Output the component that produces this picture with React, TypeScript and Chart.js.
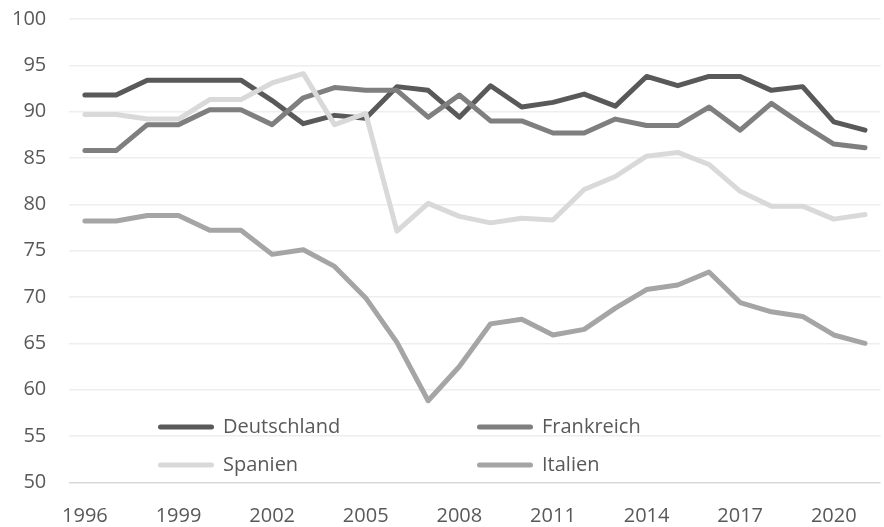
import React, { useEffect, useRef } from "react";
import { Chart, registerables } from "chart.js";

Chart.register(...registerables);

const years = [
  "1996", "1997", "1998", "1999", "2000", "2001", "2002", "2003", "2004", "2005",
  "2006", "2007", "2008", "2009", "2010", "2011", "2012", "2013", "2014", "2015",
  "2016", "2017", "2018", "2019", "2020", "2021",
];
const tickYears = ["1996", "1999", "2002", "2005", "2008", "2011", "2014", "2017", "2020"];

const deutschland = [91.8, 91.8, 93.4, 93.4, 93.4, 93.4, 91.2, 88.7, 89.6, 89.3, 92.7, 92.3, 89.4, 92.8, 90.5, 91.0, 91.9, 90.6, 93.8, 92.8, 93.8, 93.8, 92.3, 92.7, 88.9, 88.0];
const frankreich = [85.8, 85.8, 88.6, 88.6, 90.2, 90.2, 88.6, 91.5, 92.6, 92.3, 92.3, 89.4, 91.8, 89.0, 89.0, 87.7, 87.7, 89.2, 88.5, 88.5, 90.5, 88.0, 90.9, 88.6, 86.5, 86.1];
const spanien = [89.7, 89.7, 89.2, 89.2, 91.3, 91.3, 93.1, 94.1, 88.6, 89.8, 77.1, 80.1, 78.7, 78.0, 78.5, 78.3, 81.6, 83.0, 85.2, 85.6, 84.3, 81.4, 79.8, 79.8, 78.4, 78.9];
const italien = [78.2, 78.2, 78.8, 78.8, 77.2, 77.2, 74.6, 75.1, 73.3, 69.9, 65.1, 58.8, 62.5, 67.1, 67.6, 65.9, 66.5, 68.8, 70.8, 71.3, 72.7, 69.4, 68.4, 67.9, 65.9, 65.0];

const seriesNames = ["Deutschland", "Frankreich", "Spanien", "Italien"];
const seriesColors = ["#595959", "#7f7f7f", "#d9d9d9", "#a5a5a5"];

const FONT = "'Open Sans', 'Liberation Sans', sans-serif";
const TEXT = "#595959";
const SHIFT = 16;

const legendPlugin = {
  id: "insideLegend",
  afterDraw(chart: any) {
    const { ctx } = chart;
    const rows = [427 + SHIFT, 465 + SHIFT];
    const cols = [158, 477];
    ctx.save();
    ctx.font = `20px ${FONT}`;
    ctx.textBaseline = "middle";
    ctx.textAlign = "left";
    chart.data.datasets.forEach((ds: any, i: number) => {
      const col = cols[i % 2];
      const y = rows[Math.floor(i / 2)];
      ctx.strokeStyle = ds.borderColor;
      ctx.lineWidth = 5;
      ctx.lineCap = "round";
      ctx.beginPath();
      ctx.moveTo(col + 2.5, y);
      ctx.lineTo(col + 53.5, y);
      ctx.stroke();
      ctx.fillStyle = TEXT;
      ctx.fillText(ds.label, col + 65, y);
    });
    ctx.restore();
  },
};

export default function App() {
  const ref = useRef<HTMLCanvasElement | null>(null);

  useEffect(() => {
    if (!ref.current) return;
    const seriesData = [deutschland, frankreich, spanien, italien];
    const chart = new Chart(ref.current, {
      type: "line",
      data: {
        labels: years,
        datasets: seriesData.map((d, i) => ({
          label: seriesNames[i],
          data: d,
          borderColor: seriesColors[i],
          backgroundColor: seriesColors[i],
          borderWidth: 5,
          borderCapStyle: "round",
          borderJoinStyle: "round",
          pointRadius: 0,
          tension: 0,
          fill: false,
          order: seriesData.length - i,
        })),
      },
      options: {
        animation: false,
        responsive: false,
        layout: { padding: { top: 19, right: 0, left: 0, bottom: 0 } },
        plugins: {
          legend: { display: false },
          tooltip: { enabled: false },
        },
        scales: {
          x: {
            offset: true,
            grid: { display: false, drawTicks: false },
            border: { display: false },
            ticks: {
              autoSkip: false,
              maxRotation: 0,
              minRotation: 0,
              padding: 22,
              color: TEXT,
              font: { family: FONT, size: 20 },
              callback: (_v: any, idx: number) =>
                tickYears.includes(years[idx]) ? years[idx] : "",
            },
            afterFit: (scale: any) => {
              scale.height = 44.7;
            },
          },
          y: {
            min: 50,
            max: 100,
            grid: {
              drawTicks: false,
              lineWidth: 1.5,
              color: (c: any) => (c.tick && c.tick.value === 50 ? "#d9d9d9" : "#eeeeee"),
            },
            border: { display: false },
            ticks: {
              stepSize: 5,
              padding: 23,
              color: TEXT,
              font: { family: FONT, size: 20 },
            },
            afterFit: (scale: any) => {
              scale.width = 69.3;
            },
          },
        },
      },
      plugins: [legendPlugin],
    });
    return () => chart.destroy();
  }, []);

  return (
    <div
      style={{
        position: "fixed",
        left: 0,
        top: 0,
        width: 884,
        height: 527,
        overflow: "hidden",
        background: "#ffffff",
      }}
    >
      <canvas
        ref={ref}
        width={887}
        height={527 + SHIFT}
        style={{ display: "block", position: "absolute", left: 0, top: -SHIFT }}
      />
    </div>
  );
}
